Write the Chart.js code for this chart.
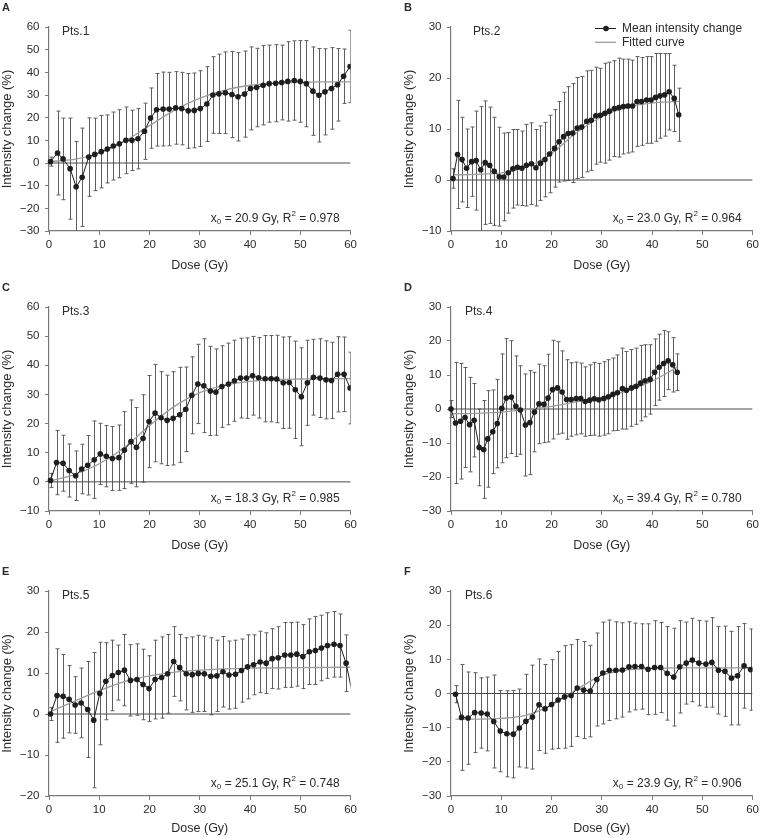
<!DOCTYPE html>
<html>
<head>
<meta charset="utf-8">
<script src="https://cdn.jsdelivr.net/npm/chart.js@4.4.0/dist/chart.umd.min.js"></script>
<style>
  html, body { margin: 0; padding: 0; background: #fff; }
  body { width: 762px; height: 838px; position: relative; overflow: hidden; }
  canvas { position: absolute; }
</style>
</head>
<body>
<canvas id="chartA" width="360" height="276" style="left:0px;top:0px"></canvas>
<canvas id="chartB" width="360" height="276" style="left:402px;top:0px"></canvas>
<canvas id="chartC" width="360" height="276" style="left:0px;top:280px"></canvas>
<canvas id="chartD" width="360" height="276" style="left:402px;top:280px"></canvas>
<canvas id="chartE" width="360" height="275" style="left:0px;top:564px"></canvas>
<canvas id="chartF" width="360" height="275" style="left:402px;top:564px"></canvas>
<script>
// colors
const ink = '#2b2b2b';
const meanColor = '#1e1e1e';
const fitColor = '#9b9b9b';
const barColor = '#5e5e5e';
const axisColor = '#7a7a7a';
const zeroColor = '#4a4a4a';
const family = '"Liberation Sans", Arial, sans-serif';

// Pts.1
const doseA = [0.3, 1.7, 2.8, 4.2, 5.4, 6.6, 7.9, 9.1, 10.4, 11.6, 12.8, 14.0, 15.3, 16.5, 17.7, 19.0, 20.2, 21.4, 22.7, 23.9, 25.2, 26.4, 27.7, 28.9, 30.1, 31.4, 32.6, 33.8, 35.1, 36.4, 37.6, 38.9, 40.1, 41.3, 42.6, 43.8, 45.1, 46.3, 47.5, 48.8, 50.0, 51.2, 52.5, 53.7, 54.9, 56.2, 57.4, 58.6, 59.9];
const meanA = [0.6, 4.4, 1.8, -2.5, -10.5, -6.3, 2.6, 3.8, 5.0, 6.2, 7.5, 8.5, 10.0, 10.0, 10.7, 14.0, 19.8, 23.5, 23.8, 23.8, 24.3, 24.0, 23.0, 23.2, 24.0, 26.0, 30.0, 30.5, 31.0, 30.2, 29.2, 30.4, 32.9, 33.3, 34.3, 35.0, 35.2, 35.5, 36.0, 36.4, 36.0, 35.0, 31.7, 29.9, 31.4, 32.9, 34.5, 38.3, 42.6];
const sdA = [2.0, 18.5, 18.0, 22.3, 20.0, 21.7, 17.3, 16.0, 16.0, 15.0, 15.0, 15.0, 14.7, 13.3, 13.3, 12.4, 13.3, 16.0, 16.3, 16.2, 16.0, 16.0, 16.5, 16.5, 16.7, 16.5, 16.9, 17.5, 18.0, 19.0, 19.5, 19.0, 18.3, 17.3, 17.5, 17.0, 17.0, 16.5, 17.5, 17.5, 18.0, 19.0, 19.5, 20.6, 19.0, 18.0, 16.0, 12.0, 16.0];
const fitDoseA = [0.3, 5, 10, 15, 20, 25, 30, 35, 40, 45, 50, 55, 60];
const fitA = [0.6, 1.6, 4.3, 9.5, 16.5, 23.3, 28.6, 32.2, 34.3, 35.2, 35.6, 35.8, 35.8];

// Pts.2
const doseB = [0.4, 1.3, 2.2, 3.1, 4.1, 5.0, 5.9, 6.8, 7.7, 8.6, 9.6, 10.5, 11.4, 12.3, 13.2, 14.1, 15.0, 16.0, 16.9, 17.8, 18.7, 19.6, 20.6, 21.5, 22.4, 23.3, 24.2, 25.1, 26.0, 27.0, 27.9, 28.8, 29.7, 30.6, 31.5, 32.5, 33.4, 34.3, 35.2, 36.1, 37.0, 37.9, 38.9, 39.8, 40.7, 41.6, 42.5, 43.4, 44.4, 45.3];
const meanB = [0.3, 5.0, 4.0, 2.3, 3.6, 3.8, 2.0, 3.4, 2.9, 1.7, 0.65, 0.6, 1.4, 2.2, 2.5, 2.3, 2.9, 3.2, 2.4, 3.3, 4.0, 5.1, 6.2, 7.5, 8.5, 9.1, 9.2, 10.2, 10.4, 11.5, 11.7, 12.6, 12.7, 13.1, 13.5, 14.0, 14.2, 14.4, 14.5, 14.5, 15.4, 15.4, 15.7, 15.7, 16.2, 16.5, 16.7, 17.3, 16.0, 12.8];
const sdB = [1.9, 10.6, 8.3, 7.7, 6.8, 9.7, 12.4, 12.1, 11.4, 10.6, 9.7, 8.6, 7.9, 7.7, 7.4, 7.3, 8.0, 8.0, 7.5, 7.3, 7.3, 7.6, 7.6, 7.9, 8.7, 9.2, 9.7, 9.9, 9.9, 9.9, 9.8, 9.5, 9.2, 9.8, 9.6, 9.4, 9.7, 9.3, 9.2, 9.0, 8.8, 8.6, 8.5, 8.5, 8.6, 8.3, 8.1, 7.5, 6.5, 5.2];
const fitDoseB = [0.4, 5, 10, 15, 20, 25, 30, 35, 40, 45.3];
const fitB = [1.0, 1.1, 1.4, 2.5, 5.2, 9.3, 12.4, 14.3, 15.1, 15.4];

// Pts.3
const doseC = [0.3, 1.5, 2.8, 4.0, 5.3, 6.5, 7.7, 9.0, 10.2, 11.4, 12.6, 13.9, 15.0, 16.3, 17.4, 18.7, 19.9, 21.1, 22.3, 23.5, 24.7, 26.0, 27.2, 28.4, 29.6, 30.8, 32.1, 33.2, 34.4, 35.7, 36.9, 38.1, 39.3, 40.5, 41.7, 43.0, 44.2, 45.3, 46.6, 47.8, 49.0, 50.2, 51.4, 52.6, 53.9, 55.1, 56.2, 57.4, 58.7, 59.9];
const meanC = [0.5, 6.6, 6.4, 3.9, 2.1, 4.4, 5.7, 7.6, 9.6, 8.8, 8.0, 8.3, 10.9, 13.8, 11.9, 14.9, 20.7, 23.6, 22.0, 21.1, 21.8, 23.0, 24.9, 29.7, 33.6, 33.0, 31.2, 30.8, 32.7, 33.6, 34.7, 35.6, 35.6, 36.4, 35.7, 35.4, 35.4, 35.3, 34.0, 34.1, 31.6, 29.2, 34.0, 35.9, 35.6, 35.0, 34.8, 36.9, 36.9, 32.2];
const sdC = [2.4, 11.0, 9.6, 9.1, 8.5, 8.5, 10.2, 13.3, 10.5, 10.5, 11.0, 11.2, 13.2, 14.3, 13.6, 15.0, 15.8, 16.7, 15.8, 15.5, 16.0, 16.3, 14.5, 13.2, 13.6, 16.1, 15.3, 14.8, 14.0, 14.0, 13.9, 13.7, 13.8, 13.5, 13.8, 14.8, 14.8, 15.0, 15.7, 15.7, 16.7, 16.8, 14.6, 13.0, 13.5, 13.4, 13.1, 12.9, 12.8, 12.3];
const fitDoseC = [0.3, 5, 10, 15, 20, 25, 30, 35, 40, 45, 50, 55, 60];
const fitC = [0.3, 2.5, 6.2, 11.8, 19.3, 26.0, 30.6, 33.2, 34.5, 35.1, 35.3, 35.4, 35.4];

// Pts.4
const doseD = [0.0, 0.9, 1.9, 2.8, 3.7, 4.6, 5.6, 6.5, 7.3, 8.3, 9.2, 10.1, 11.0, 12.0, 12.9, 13.8, 14.8, 15.7, 16.6, 17.5, 18.5, 19.3, 20.2, 21.2, 22.1, 23.0, 23.9, 24.9, 25.8, 26.7, 27.6, 28.5, 29.4, 30.4, 31.3, 32.2, 33.1, 34.1, 34.9, 35.9, 36.8, 37.7, 38.6, 39.6, 40.5, 41.4, 42.3, 43.2, 44.1, 45.0];
const meanD = [0.0, -4.1, -3.6, -2.5, -4.6, -3.3, -11.3, -11.9, -8.8, -6.7, -4.3, 0.2, 3.2, 3.5, 0.8, -0.3, -4.7, -4.0, -0.9, 1.5, 1.4, 3.2, 5.7, 6.2, 5.0, 2.8, 2.8, 3.1, 3.1, 2.2, 2.6, 3.0, 2.7, 3.1, 3.6, 4.3, 4.8, 6.0, 5.5, 6.2, 6.7, 7.6, 8.3, 8.7, 10.8, 12.3, 13.4, 14.2, 13.0, 10.8];
const sdD = [2.5, 17.8, 17.0, 14.7, 13.9, 10.8, 11.3, 14.4, 14.2, 12.3, 13.0, 16.0, 17.5, 16.6, 14.8, 13.0, 15.0, 15.3, 11.7, 11.7, 11.3, 12.9, 14.5, 13.6, 12.1, 11.7, 10.8, 10.7, 10.4, 10.2, 10.4, 10.7, 10.7, 10.8, 10.9, 10.7, 11.1, 11.9, 11.4, 11.3, 11.2, 11.1, 10.6, 10.2, 9.8, 9.7, 9.7, 8.5, 8.0, 5.4];
const fitDoseD = [0, 5, 10, 15, 20, 25, 30, 35, 40, 45];
const fitD = [-1.4, -1.3, -0.9, -0.2, 0.8, 2.1, 3.4, 5.3, 8.2, 12.3];

// Pts.5 (last point sits just past 60 Gy)
const doseE = [0.3, 1.6, 2.8, 4.0, 5.2, 6.4, 7.7, 8.9, 10.1, 11.3, 12.6, 13.8, 15.0, 16.2, 17.5, 18.7, 19.9, 21.1, 22.4, 23.6, 24.8, 26.0, 27.3, 28.5, 29.7, 30.9, 32.2, 33.4, 34.6, 35.8, 37.1, 38.3, 39.5, 40.7, 42.0, 43.2, 44.4, 45.6, 46.9, 48.1, 49.3, 50.5, 51.8, 53.0, 54.2, 55.4, 56.7, 57.9, 59.1, 60.4];
const meanE = [0.0, 4.5, 4.3, 3.6, 2.2, 2.7, 1.1, -1.5, 5.0, 8.0, 9.4, 10.1, 10.7, 8.2, 8.4, 7.2, 6.2, 8.4, 8.9, 9.8, 12.8, 11.3, 9.8, 9.6, 9.9, 9.8, 9.2, 9.3, 10.3, 9.5, 9.7, 10.6, 11.5, 12.0, 12.7, 12.4, 13.5, 13.7, 14.4, 14.4, 14.6, 14.0, 15.2, 15.5, 16.1, 16.7, 17.0, 16.7, 12.4, 4.7];
const sdE = [1.6, 11.4, 10.2, 8.2, 6.9, 8.5, 11.7, 16.5, 12.5, 9.4, 8.6, 6.7, 8.7, 8.7, 8.7, 8.6, 8.0, 9.6, 9.9, 9.6, 8.5, 8.1, 8.8, 9.2, 9.3, 9.2, 9.4, 8.7, 8.6, 8.3, 8.3, 7.7, 7.8, 7.3, 7.5, 7.4, 7.3, 7.6, 7.9, 7.9, 7.8, 7.8, 8.0, 8.3, 8.0, 8.0, 8.0, 7.7, 6.9, 7.0];
const fitDoseE = [0.3, 5, 10, 15, 20, 25, 30, 35, 40, 50, 60];
const fitE = [0.6, 3.1, 5.7, 7.9, 9.3, 10.2, 10.7, 11.0, 11.2, 11.3, 11.4];

// Pts.6
const doseF = [0.9, 2.1, 3.4, 4.7, 6.0, 7.2, 8.5, 9.8, 11.1, 12.4, 13.6, 14.9, 16.2, 17.5, 18.7, 20.0, 21.3, 22.6, 23.9, 25.1, 26.4, 27.7, 29.0, 30.2, 31.5, 32.8, 34.1, 35.4, 36.6, 37.9, 39.2, 40.5, 41.7, 43.0, 44.3, 45.5, 46.8, 48.0, 49.3, 50.7, 51.9, 53.2, 54.5, 55.8, 57.0, 58.3, 59.6];
const meanF = [-0.2, -7.0, -7.2, -5.6, -5.7, -6.0, -8.2, -11.0, -11.8, -11.9, -10.1, -8.1, -6.9, -3.3, -4.5, -3.2, -1.9, -1.0, -0.6, 1.6, 1.0, 0.7, 4.1, 6.0, 6.8, 6.8, 6.9, 7.8, 7.9, 7.9, 7.1, 7.6, 7.6, 5.9, 4.8, 7.8, 8.9, 9.8, 8.9, 8.6, 9.1, 6.8, 6.5, 4.5, 5.2, 8.1, 7.0];
const sdF = [2.5, 15.5, 13.5, 11.7, 10.3, 10.8, 13.6, 11.9, 12.6, 12.8, 11.4, 13.7, 15.2, 13.4, 13.0, 13.1, 14.2, 15.0, 14.9, 14.2, 14.2, 13.4, 13.6, 14.9, 14.7, 14.2, 13.8, 13.2, 12.7, 12.5, 13.3, 13.7, 13.2, 13.7, 14.3, 13.5, 12.0, 12.2, 12.5, 12.6, 13.1, 12.8, 13.2, 13.7, 14.4, 12.4, 11.9];
const fitDoseF = [0.9, 5, 10, 15, 20, 25, 30, 35, 40, 45, 50, 60];
const fitF = [-7.5, -7.5, -7.3, -6.3, -3.4, 1.2, 5.3, 6.9, 7.3, 7.5, 7.5, 7.5];

const legendLabels = ['Mean intensity change', 'Fitted curve'];


// error bars (mean +/- SD) drawn under the lines
const errorBars = {
  id: 'errorBars',
  beforeDatasetsDraw(chart, args, opts) {
    const ds = chart.data.datasets[0];
    const xs = chart.scales.x, ys = chart.scales.y;
    const a = chart.chartArea;
    const ctx = chart.ctx;
    ctx.save();
    ctx.beginPath();
    ctx.rect(a.left - 3, a.top, a.width + 3, a.height);
    ctx.clip();
    ctx.strokeStyle = barColor;
    ctx.lineWidth = 1;
    ds.data.forEach((p, i) => {
      if (p.x > xs.max) return;
      const s = opts.sd[i];
      const px = Math.round(xs.getPixelForValue(p.x)) + 0.5;
      const top = ys.getPixelForValue(p.y + s);
      const bot = ys.getPixelForValue(p.y - s);
      ctx.beginPath();
      ctx.moveTo(px, top); ctx.lineTo(px, bot);
      ctx.moveTo(px - 2, top); ctx.lineTo(px + 2, top);
      ctx.moveTo(px - 2, bot); ctx.lineTo(px + 2, bot);
      ctx.stroke();
    });
    ctx.restore();
  }
};

// panel letter, Pts label, fit note and legend
const panelText = {
  id: 'panelText',
  afterDraw(chart, args, o) {
    const ctx = chart.ctx, a = chart.chartArea;
    ctx.save();
    ctx.fillStyle = ink;
    ctx.textBaseline = 'middle';
    ctx.textAlign = 'left';
    ctx.font = 'bold 11px ' + family;
    ctx.fillText(o.letter, a.left - 47, a.top - 19);
    ctx.font = '12px ' + family;
    ctx.fillText(o.pts, a.left + o.ptsDx, a.top + 5);

    // x0 = .. Gy, R2 = ..
    const parts = [
      ['x', 0], ['0', 1], [' = ' + o.x0 + ' Gy, R', 0], ['2', -1], [' = ' + o.r2, 0]
    ];
    const big = '12px ' + family, small = '8px ' + family;
    let w = 0;
    parts.forEach(p => { ctx.font = p[1] ? small : big; w += ctx.measureText(p[0]).width; });
    let tx = a.right - 11 - w;
    const ty = a.bottom - 12;
    parts.forEach(p => {
      ctx.font = p[1] ? small : big;
      const dy = p[1] === 1 ? 3 : (p[1] === -1 ? -5 : 0);
      ctx.fillText(p[0], tx, ty + dy);
      tx += ctx.measureText(p[0]).width;
    });

    if (o.legend) {
      const lx = a.left + 144, textX = a.left + 171;
      const r1 = a.top + 1.5, r2 = a.top + 15.3;
      ctx.strokeStyle = meanColor; ctx.lineWidth = 1;
      ctx.beginPath(); ctx.moveTo(lx, r1); ctx.lineTo(lx + 21, r1); ctx.stroke();
      ctx.fillStyle = meanColor;
      ctx.beginPath(); ctx.arc(lx + 11, r1, 2.8, 0, Math.PI * 2); ctx.fill();
      ctx.strokeStyle = fitColor; ctx.lineWidth = 1.3;
      ctx.beginPath(); ctx.moveTo(lx, r2); ctx.lineTo(lx + 21, r2); ctx.stroke();
      ctx.fillStyle = ink;
      ctx.font = '12px ' + family;
      ctx.fillText(legendLabels[0], textX, r1);
      ctx.fillText(legendLabels[1], textX, r2);
    }
    ctx.restore();
  }
};

const minus = v => (v < 0 ? '\u2212' + Math.abs(v) : '' + v);

function makePanel(id, p) {
  const ctx = document.getElementById(id).getContext('2d');
  const xAxisH = p.axisH;
  return new Chart(ctx, {
    type: 'line',
    data: {
      datasets: [
        {
          label: legendLabels[0],
          data: p.dose.map((d, i) => ({ x: d, y: p.mean[i] })),
          borderColor: meanColor,
          borderWidth: 1,
          backgroundColor: meanColor,
          pointBackgroundColor: meanColor,
          pointBorderWidth: 0,
          pointRadius: c => (c.raw && c.raw.x > 60 ? 0 : 2.8),
          tension: 0,
          clip: { left: 6, top: 6, bottom: 6, right: 0 }
        },
        {
          label: legendLabels[1],
          data: p.fitDose.map((d, i) => ({ x: d, y: p.fit[i] })),
          borderColor: fitColor,
          borderWidth: 1.3,
          pointRadius: 0,
          cubicInterpolationMode: 'monotone'
        },
        {
          label: 'zero',
          data: [{ x: 0, y: 0 }, { x: 60, y: 0 }],
          borderColor: zeroColor,
          borderWidth: 1,
          pointRadius: 0
        }
      ]
    },
    options: {
      responsive: false,
      animation: false,
      layout: { padding: { left: 0, top: 27, right: 8, bottom: 0 } },
      plugins: {
        legend: { display: false },
        tooltip: { enabled: false },
        errorBars: { sd: p.sd },
        panelText: p.text
      },
      scales: {
        x: {
          type: 'linear',
          min: 0,
          max: 60,
          ticks: { stepSize: 10, color: ink, font: { size: 11.5, family }, padding: 3, maxRotation: 0 },
          grid: { drawOnChartArea: false, tickLength: 4, color: axisColor },
          border: { color: axisColor, width: 1.2 },
          title: { display: true, text: 'Dose (Gy)', color: ink, font: { size: 12.5, family }, padding: { top: 0, bottom: 3 } },
          afterFit: s => { s.height = xAxisH; }
        },
        y: {
          type: 'linear',
          min: p.yMin,
          max: p.yMax,
          ticks: { stepSize: 10, color: ink, font: { size: 11.5, family }, padding: 5.5, callback: minus },
          grid: { drawOnChartArea: false, tickLength: 4, color: axisColor },
          border: { color: axisColor, width: 1.2 },
          title: { display: true, text: 'Intensity change (%)', color: ink, font: { size: 13, family }, padding: { top: 0, bottom: 0 } },
          afterFit: s => { s.width = 49; }
        }
      }
    },
    plugins: [errorBars, panelText]
  });
}

makePanel('chartA', { dose: doseA, mean: meanA, sd: sdA, fitDose: fitDoseA, fit: fitA, yMin: -30, yMax: 60, axisH: 45,
  text: { letter: 'A', pts: 'Pts.1', ptsDx: 13, x0: '20.9', r2: '0.978' } });
makePanel('chartB', { dose: doseB, mean: meanB, sd: sdB, fitDose: fitDoseB, fit: fitB, yMin: -10, yMax: 30, axisH: 45,
  text: { letter: 'B', pts: 'Pts.2', ptsDx: 22, x0: '23.0', r2: '0.964', legend: true } });
makePanel('chartC', { dose: doseC, mean: meanC, sd: sdC, fitDose: fitDoseC, fit: fitC, yMin: -10, yMax: 60, axisH: 45,
  text: { letter: 'C', pts: 'Pts.3', ptsDx: 13, x0: '18.3', r2: '0.985' } });
makePanel('chartD', { dose: doseD, mean: meanD, sd: sdD, fitDose: fitDoseD, fit: fitD, yMin: -30, yMax: 30, axisH: 45,
  text: { letter: 'D', pts: 'Pts.4', ptsDx: 14, x0: '39.4', r2: '0.780' } });
makePanel('chartE', { dose: doseE, mean: meanE, sd: sdE, fitDose: fitDoseE, fit: fitE, yMin: -20, yMax: 30, axisH: 43,
  text: { letter: 'E', pts: 'Pts.5', ptsDx: 13, x0: '25.1', r2: '0.748' } });
makePanel('chartF', { dose: doseF, mean: meanF, sd: sdF, fitDose: fitDoseF, fit: fitF, yMin: -30, yMax: 30, axisH: 43,
  text: { letter: 'F', pts: 'Pts.6', ptsDx: 14, x0: '23.9', r2: '0.906' } });
</script>
</body>
</html>
